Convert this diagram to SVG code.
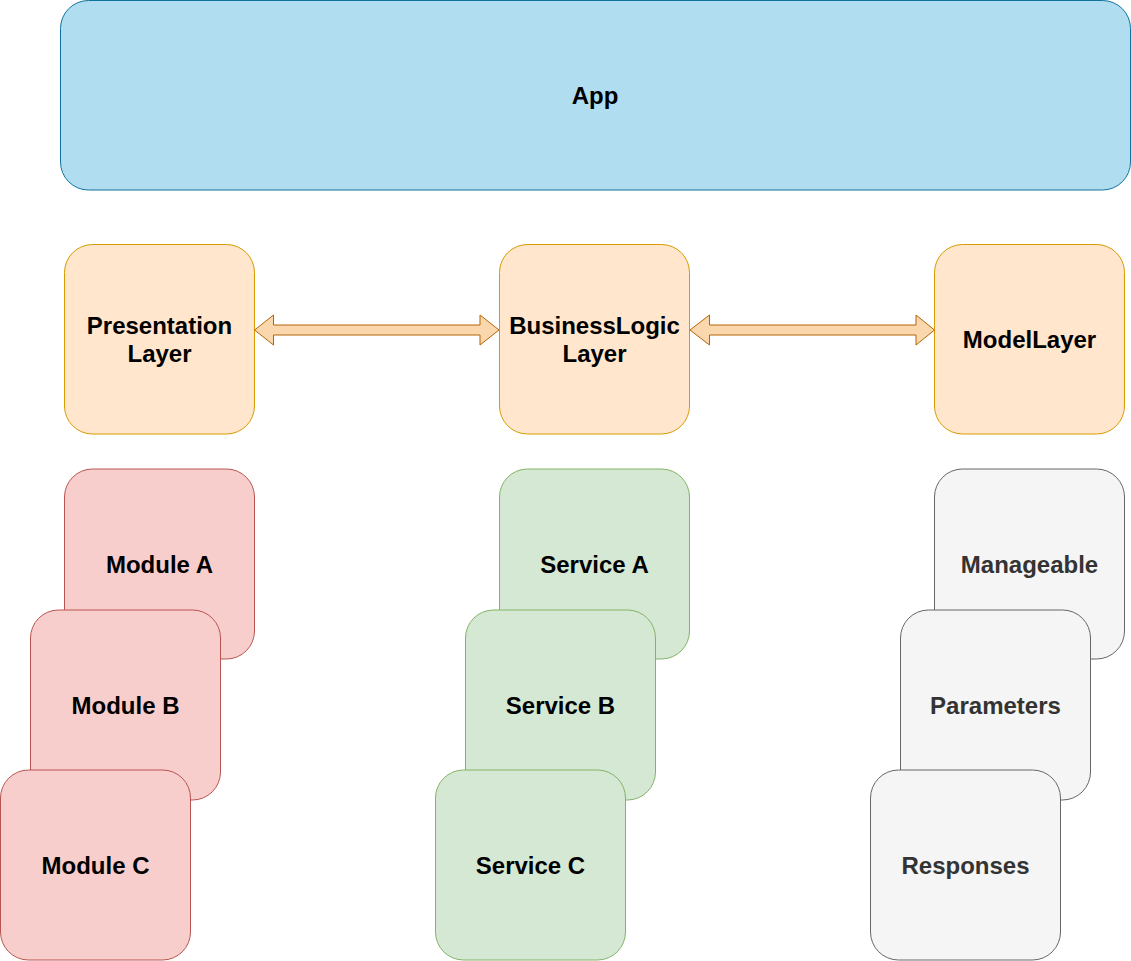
<svg xmlns="http://www.w3.org/2000/svg" width="1131" height="961" viewBox="0 0 1131 961">
<style>
text{font-family:"Liberation Sans",Arial,Helvetica,sans-serif;font-weight:bold;font-size:24px;text-anchor:middle;fill:#000}
.app{fill:#b1ddf0;stroke:#10739e;stroke-width:1}
.or{fill:#ffe6cc;stroke:#d79b00;stroke-width:1}
.rd{fill:#f8cecc;stroke:#b85450;stroke-width:1}
.gr{fill:#d5e8d4;stroke:#82b366;stroke-width:1}
.gy{fill:#f5f5f5;stroke:#666666;stroke-width:1}
.gyt{fill:#333333}
.arr{fill:#fad7ac;stroke:#b46504;stroke-width:1;stroke-linejoin:miter}
</style>
<rect width="1131" height="961" fill="#ffffff"/>
<g id="app"><rect class="app" x="60.5" y="0.5" width="1070" height="189.5" rx="28" ry="28"/><text x="595" y="104">App</text></g>
<g id="presentation"><rect class="or" x="64.5" y="244.5" width="190" height="189.5" rx="28" ry="28"/><text x="159.5" y="333.5">Presentation</text><text x="159.5" y="361.5">Layer</text></g>
<g id="business"><rect class="or" x="499.5" y="244.5" width="190" height="189.5" rx="28" ry="28"/><text x="594.5" y="333.5">BusinessLogic</text><text x="594.5" y="361.5">Layer</text></g>
<g id="model"><rect class="or" x="934.5" y="244.5" width="190" height="189.5" rx="28" ry="28"/><text x="1029.5" y="347.5">ModelLayer</text></g>
<g id="moduleA"><rect class="rd" x="64.5" y="469" width="190" height="190" rx="28" ry="28"/><text x="159.5" y="572.5">Module A</text></g>
<g id="moduleB"><rect class="rd" x="30.5" y="610" width="190" height="190" rx="28" ry="28"/><text x="125.5" y="713.5">Module B</text></g>
<g id="moduleC"><rect class="rd" x="0.5" y="770" width="190" height="190" rx="28" ry="28"/><text x="95.5" y="873.5">Module C</text></g>
<g id="serviceA"><rect class="gr" x="499.5" y="469" width="190" height="190" rx="28" ry="28"/><text x="594.5" y="572.5">Service A</text></g>
<g id="serviceB"><rect class="gr" x="465.5" y="610" width="190" height="190" rx="28" ry="28"/><text x="560.5" y="713.5">Service B</text></g>
<g id="serviceC"><rect class="gr" x="435.5" y="770" width="190" height="190" rx="28" ry="28"/><text x="530.5" y="873.5">Service C</text></g>
<g id="manageable"><rect class="gy" x="934.5" y="469" width="190" height="190" rx="28" ry="28"/><text class="gyt" x="1029.5" y="572.5">Manageable</text></g>
<g id="parameters"><rect class="gy" x="900.5" y="610" width="190" height="190" rx="28" ry="28"/><text class="gyt" x="995.5" y="713.5">Parameters</text></g>
<g id="responses"><rect class="gy" x="870.5" y="770" width="190" height="190" rx="28" ry="28"/><text class="gyt" x="965.5" y="873.5">Responses</text></g>
<g id="connectors">
<path class="arr" d="M254.5 330 L273.5 315 L273.5 325 L480 325 L480 315 L499 330 L480 345 L480 335 L273.5 335 L273.5 345 Z"/>
<path class="arr" d="M690 330 L709.5 315 L709.5 325 L916 325 L916 315 L934.5 330 L916 345 L916 335 L709.5 335 L709.5 345 Z"/>
</g>
</svg>
